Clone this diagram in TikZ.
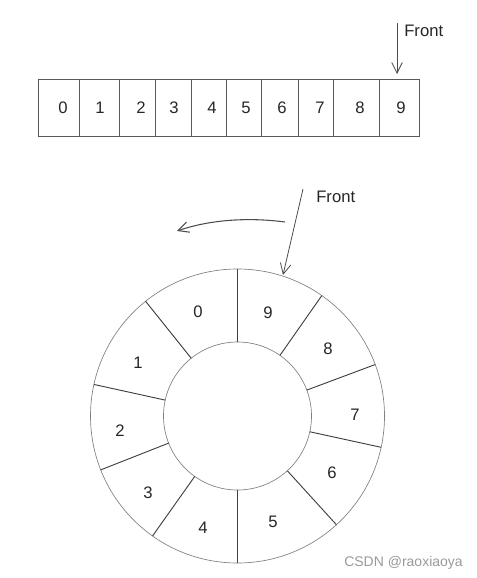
\documentclass[tikz,border=0pt]{standalone}
\usepackage{fontspec}
\setmainfont{Liberation Sans}
\usetikzlibrary{arrows.meta,calc}

\tikzset{
  cellline/.style={draw=black!65, line width=0.6pt},
  ringline/.style={draw=black!50, line width=0.5pt},
  divline/.style={draw=black!75, line width=0.7pt},
  frontarrow/.style={draw=black!70, line width=0.6pt, -{Straight Barb[length=8pt, width=8pt]}},
  digit/.style={font=\fontsize{12.5}{15}\selectfont, text=black!85},
  label/.style={font=\fontsize{12.5}{15}\selectfont, text=black!85, anchor=west, inner sep=0pt}
}

\begin{document}
\begin{tikzpicture}[x=0.75pt, y=-0.75pt]
  \useasboundingbox (0,0) rectangle (477,578);

  % Array
  \draw[cellline] (38,79) rectangle (419,136);
  \foreach \x in {79,119,155,191,226,261,298,333,379}
    \draw[cellline] (\x,79) -- (\x,136);
  \foreach \n/\x in {0/63,1/100,2/141,3/174,4/212,5/246,6/282,7/320,8/360,9/401}
    \node[digit] (a\n) at (\x,108) {\n};

  % Front of the array
  \node[label] (front1) at (404,31) {Front};
  \coordinate (f1start) at (397,23);
  \coordinate (f1tip) at (397,74);
  \draw[frontarrow] (f1start) -- (f1tip);

  % Ring
  \coordinate (c) at (237.5,416);
  \draw[ringline] (c) circle[radius=147];
  \draw[ringline] (c) circle[radius=74];
  \foreach \a in {-90,-55,-20.5,12.3,47.7,90,125.3,158.5,-167.6,-128.7}
    \draw[divline] ($(c)+(\a:74)$) -- ($(c)+(\a:147)$);
  \foreach \n/\x/\y in {0/198/312,9/268/313,8/328/349,7/355/415,6/332/473,
                        5/273/522,4/203/528,3/148/493,2/120/431,1/138/363}
    \node[digit] (r\n) at (\x,\y) {\n};

  % Front of the ring
  \node[label] (front2) at (316,197) {Front};
  \coordinate (f2start) at (303,189);
  \coordinate (f2tip) at (283,275);
  \draw[frontarrow] (f2start) -- (f2tip);

  % Direction of turning
  \coordinate (turnstart) at (285,222);
  \coordinate (turnend) at (177,231);
  \draw[frontarrow, line width=0.8pt] (turnstart) .. controls (255,218) and (215,218) .. (turnend);

  \node[font=\fontsize{10.5}{12}\selectfont, text=black!40, anchor=west, inner sep=0pt] (mark) at (344,563) {CSDN @raoxiaoya};
\end{tikzpicture}
\end{document}
